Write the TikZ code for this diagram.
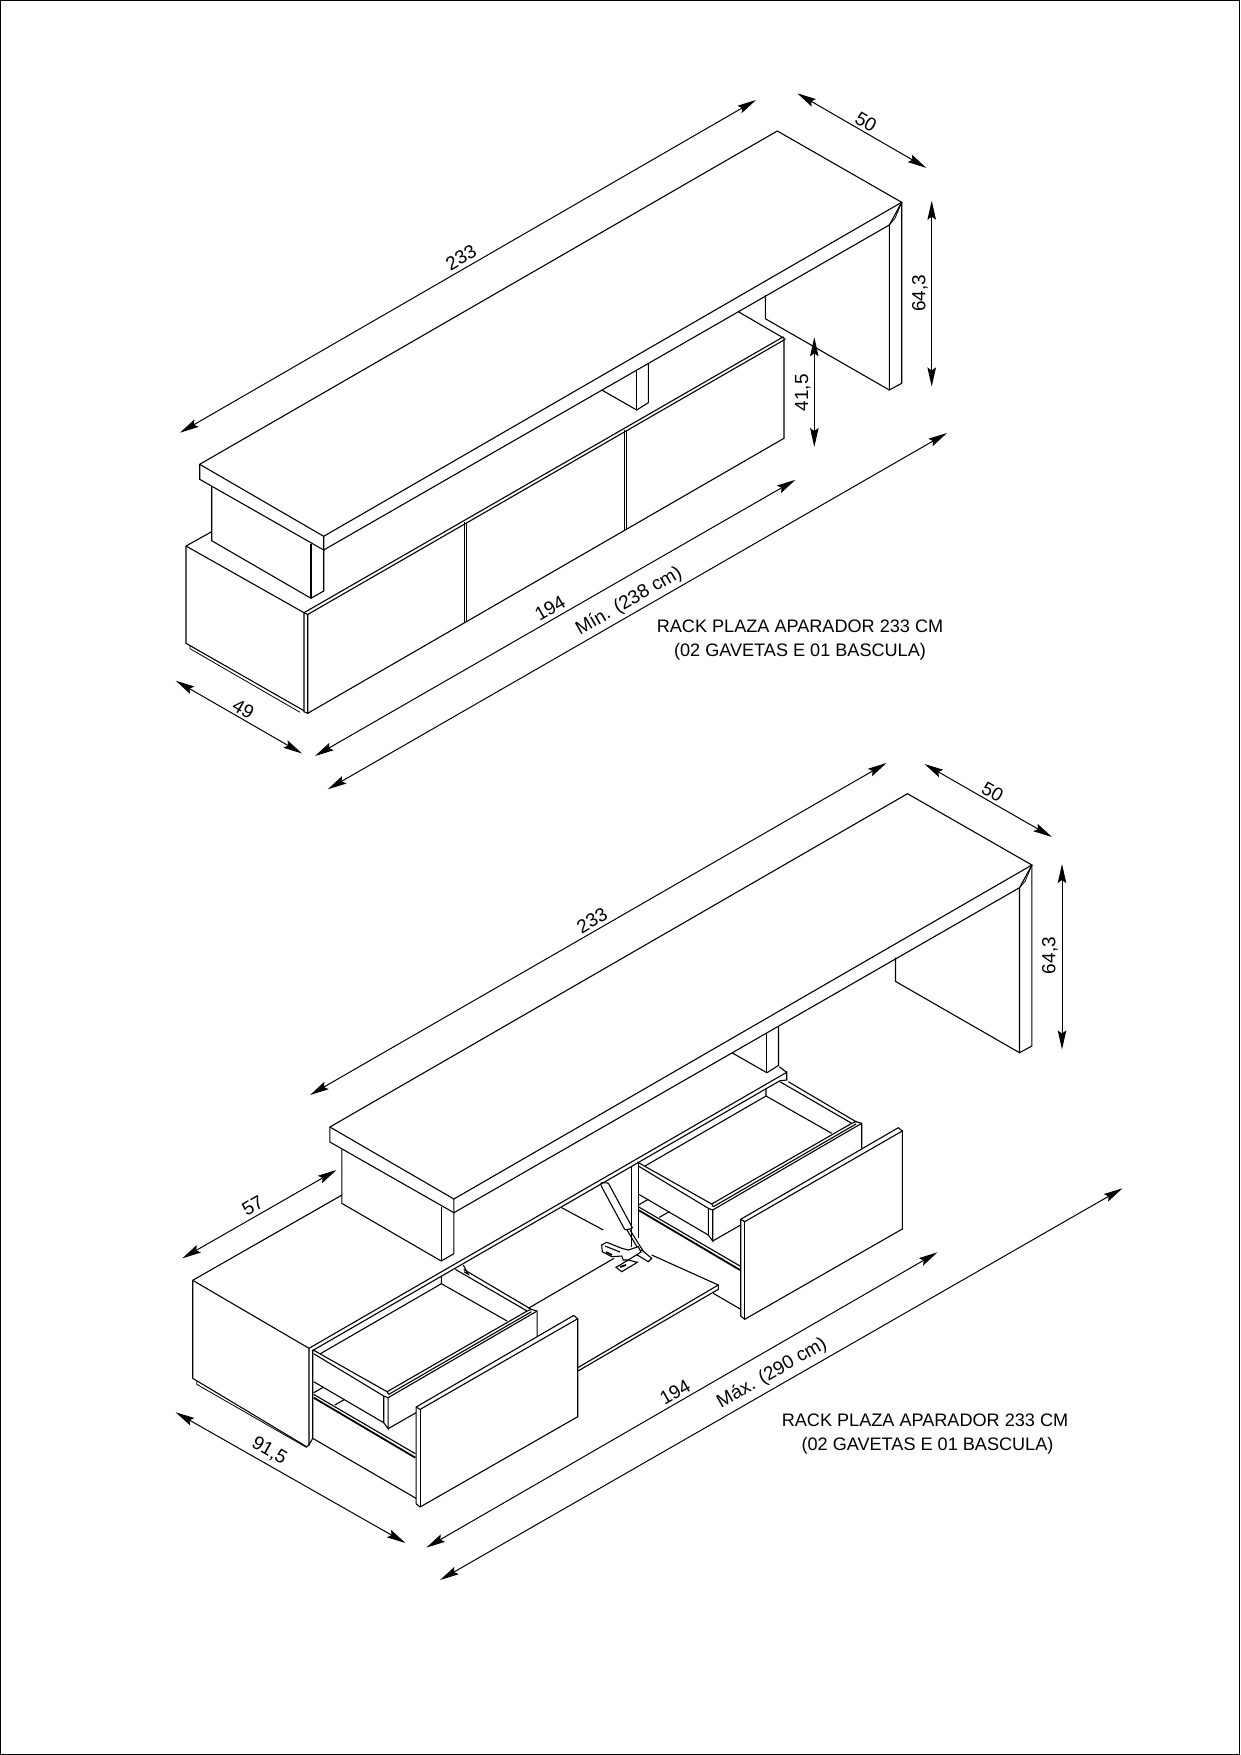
\documentclass[tikz,border=0pt]{standalone}
\usepackage{fontspec}
\setmainfont{Liberation Sans}
\usetikzlibrary{arrows.meta}
\tikzset{
  edge/.style={line width=1.1pt, line join=miter},
  fineedge/.style={line width=0.8pt},
  dimline/.style={line width=1pt, {Stealth[length=19pt,width=8.5pt,inset=3pt]}-{Stealth[length=19pt,width=8.5pt,inset=3pt]}},
  dimtext/.style={font=\fontsize{19}{19}\selectfont, inner sep=0pt},
  plaque/.style={font=\fontsize{18.1}{24.5}\selectfont, inner sep=0pt}
}
% top board, leg and the two supports under it
\newcommand{\rackcap}{
  \draw[edge] (199.7,464.3) -- (777.3,131) -- (901.7,202.3) -- (323.7,536.3) -- cycle;
  \draw[edge] (199.7,464.3) -- (199.7,479.3) -- (323.7,550) -- (323.7,536.3);
  \draw[edge] (323.7,550) -- (889.3,225) -- (901.7,202.3);
  \draw[fineedge] (889.3,225) -- (895,218.3) -- (901.7,202.3);
  \draw[edge] (901.7,202.3) -- (901.7,383.3) -- (889.3,390) -- (889.3,225);
  \draw[edge] (889.3,390) -- (765.3,318.7) -- (765.3,295);
  \draw[edge] (211.7,486.7) -- (211.7,540.7) -- (311,598.3) -- (323.7,591) -- (323.7,550);
  \draw[edge] (311,544) -- (311,598.3);
  \draw[edge] (601.7,390) -- (636.7,410) -- (648.3,402.7) -- (648.3,364);
  \draw[edge] (636.7,410) -- (636.7,370);
}
% drawer pulled out with its front door
\newcommand{\drawerunit}{
  \draw[edge] (645,1166) -- (766,1096) -- (766,1088.3);
  \draw[edge] (766,1096) -- (831.7,1133.3);
  \draw[edge] (780,1081.7) -- (851.7,1123.3) -- (856,1121.7) -- (788.3,1081.7);
  \draw[edge] (856,1121.7) -- (861.7,1123.3) -- (861.7,1148.3);
  \draw[edge] (711.7,1204) -- (851.7,1123.3);
  \draw[edge] (713.3,1206.7) -- (856,1124);
  \draw[edge] (712.7,1210) -- (861.7,1123.3);
  \draw[edge] (637.3,1162) -- (711.7,1204) -- (713.3,1206.7);
  \draw[edge] (638.3,1166) -- (708.3,1208.3) -- (712.7,1210);
  \draw[edge] (708.3,1208.3) -- (708.3,1235) -- (712.7,1241) -- (712.7,1210);
  \draw[edge] (712.7,1241) -- (745,1222.5);
  \draw[edge] (638.3,1194) -- (708.3,1235);
  \draw[edge] (638.3,1205) -- (648.3,1199.3);
  \draw[edge] (659.3,1217.3) -- (669.3,1211.7);
  \draw[edge] (638.3,1206.7) -- (740,1266);
  \draw[line width=1.8pt] (638.3,1210) -- (740,1270);
  \draw[edge, fill=white] (740.7,1219.3) -- (898.3,1127.7) -- (902.3,1131) -- (902.3,1229) -- (744.7,1319.3) -- (740.7,1316) -- cycle;
  \draw[edge] (740.7,1219.3) -- (744.7,1221.7) -- (902.3,1131);
  \draw[edge] (744.7,1221.7) -- (744.7,1319.3);
}
\begin{document}
\begin{tikzpicture}[x=1pt, y=-1pt]
  \useasboundingbox (0,0) rectangle (1240,1755);
  \draw[line width=1pt] (0.5,0.5) rectangle (1239.5,1754.5);

  % upper rack, closed
  \rackcap
  \draw[edge] (186,546) -- (211.7,531.7);
  \draw[edge] (186,546) -- (304,612.7) -- (304,711.7) -- (307.7,713.3) -- (307.7,614.5) -- (304,612.7);
  \draw[edge] (186,546) -- (186,643.3) -- (304,710.7);
  \draw[fineedge] (190,646) -- (190,648.7) -- (300,712.3);
  \draw[edge] (304,612.7) -- (783,337) -- (784,338.3) -- (738.3,311.7);
  \draw[edge] (307.7,614.5) -- (784,340);
  \draw[edge] (784,338.3) -- (784,438.3) -- (307.7,713.3);
  \draw[edge] (464.3,522) -- (464.3,622);
  \draw[edge] (466.7,523) -- (466.7,621);
  \draw[edge] (624.3,430) -- (624.3,529.7);
  \draw[edge] (626.3,431) -- (626.3,529);

  \draw[dimline] (180,432.7) -- (756,100);
  \node[dimtext, rotate=30] (len233a) at (461,257.5) {233};
  \draw[dimline] (797.3,93.3) -- (926.3,167.9);
  \node[dimtext, rotate=-30] (dep50a) at (866,122) {50};
  \draw[dimline] (931.7,200.7) -- (931.7,386.5);
  \node[dimtext, rotate=90] (hgt64a) at (920,293.5) {64,3};
  \draw[dimline] (814.3,337.3) -- (814.3,447);
  \node[dimtext, rotate=90] (hgt41) at (802.7,392.7) {41,5};
  \draw[dimline] (175.7,680.7) -- (302,753.5);
  \node[dimtext, rotate=-30] (dep49) at (243.3,709) {49};
  \draw[dimline] (315,756) -- (795.5,479.8);
  \node[dimtext, rotate=30] (len194a) at (550,608.3) {194};
  \draw[dimline] (327.7,789.3) -- (947,433);
  \node[dimtext, rotate=30] (lenmin) at (629,601.5) {Mín. (238 cm)};
  \node[plaque, align=center] (plateA) at (800,640) {RACK PLAZA APARADOR 233 CM\\(02 GAVETAS E 01 BASCULA)};

  % lower rack, open
  \begin{scope}[shift={(130.2,662.7)}]
    \rackcap
  \end{scope}
  \draw[edge] (192.7,1280.3) -- (342,1195);
  \draw[edge] (192.7,1280.3) -- (309,1348.3) -- (309,1445) -- (306.7,1446.7);
  \draw[edge] (192.7,1280.3) -- (192.7,1378.3) -- (306.7,1446.7);
  \draw[fineedge] (196.7,1381) -- (196.7,1384.3) -- (306.7,1447.5);
  \draw[edge] (309,1348.3) -- (786.7,1072.3) -- (786.7,1080) -- (780,1080.7) -- (312.7,1350.5);
  \draw[edge] (786.7,1072.3) -- (779.3,1066.7);
  % bascula, hinge and piston
  \draw[edge] (528.3,1308.3) -- (614,1258.3);
  \draw[edge] (561.7,1207.7) -- (603.3,1230);
  \draw[edge] (651.7,1255) -- (718.3,1285) -- (718.3,1289.3) -- (578,1371);
  \draw[edge] (718.3,1285) -- (576.7,1368.3);
  \draw[edge] (713.3,1293.3) -- (740.7,1309.3);
  \draw[edge] (463.3,1265) -- (468.3,1274.3) -- (464,1271.7);
  \draw[edge] (631.7,1166) -- (631.7,1246.7);
  \draw[edge] (638.3,1163) -- (638.3,1238);
  \draw[edge, rounded corners=1pt] (600.7,1185) -- (601,1182.5) -- (608.3,1183) -- (632.7,1228.3) -- (625,1230) -- cycle;
  \draw[edge] (630,1230) -- (646.7,1256.7);
  \draw[edge] (627,1230) -- (640,1251.7);
  \draw[edge, fill=white] (635.7,1254) -- (641.7,1250) -- (651.7,1258.3) -- (648.3,1261.7) -- cycle;
  \draw[edge, fill=white] (601.7,1245) -- (606.7,1242.3) -- (621.7,1248.3) -- (628.3,1250) -- (638.3,1246.7) -- (641,1252) -- (628.3,1260) -- (623.3,1260) -- (621.7,1256) -- (611.7,1256.7) -- (602.3,1251.7) -- cycle;
  \draw[edge] (605,1246) -- (620,1252);
  \draw[line width=1.6pt] (606,1252) -- (612,1255);
  \draw[edge, fill=white] (616,1267.3) -- (628.3,1260) -- (637.3,1262.3) -- (621.7,1271.7) -- cycle;
  \draw[line width=1.8pt] (620,1267) -- (626,1265);
  \drawerunit
  \begin{scope}[shift={(-324.6,187.7)}]
    \drawerunit
  \end{scope}
  \draw[edge] (312.7,1350) -- (312.7,1438.3) -- (309,1445);
  \draw[edge] (312.7,1438.3) -- (416,1498.3);

  \draw[dimline] (310,1095) -- (886.5,763);
  \node[dimtext, rotate=30] (len233b) at (592,920.5) {233};
  \draw[dimline] (924.5,764) -- (1052,837);
  \node[dimtext, rotate=-30] (dep50b) at (992.6,792) {50};
  \draw[dimline] (1062,864) -- (1062,1049.5);
  \node[dimtext, rotate=90] (hgt64b) at (1050,955.6) {64,3};
  \draw[dimline] (182.3,1258.3) -- (336.5,1170);
  \node[dimtext, rotate=30] (dep57) at (252.7,1206) {57};
  \draw[dimline] (175.7,1412.3) -- (405.5,1543);
  \node[dimtext, rotate=-30] (dep91) at (269.3,1451) {91,5};
  \draw[dimline] (426.4,1547.6) -- (937.5,1252.3);
  \node[dimtext, rotate=30] (len194b) at (675,1392) {194};
  \draw[dimline] (440,1580) -- (1122.5,1188.3);
  \node[dimtext, rotate=30] (lenmax) at (772,1373.5) {Máx. (290 cm)};
  \node[plaque, align=center] (plateB) at (925,1434) {RACK PLAZA APARADOR 233 CM\\\hspace*{5pt}(02 GAVETAS E 01 BASCULA)};
\end{tikzpicture}
\end{document}
